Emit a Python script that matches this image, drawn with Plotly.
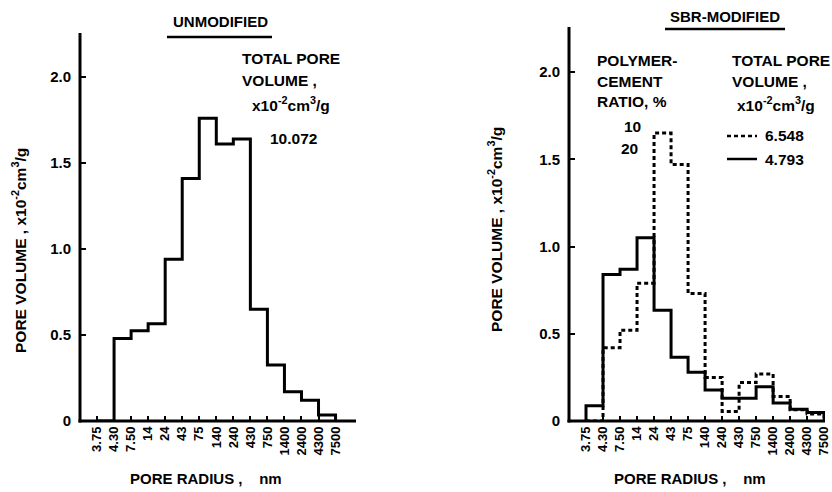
import plotly.graph_objects as go

# Pore-radius class boundaries (nm), equally spaced on the axis
radius_labels = ["3.75", "4.30", "7.50", "14", "24", "43", "75", "140", "240",
                 "430", "750", "1400", "2400", "4300", "7500"]

# Pore volume per class (x10^-2 cm^3/g), one value per interval between boundaries
unmodified = [0.0, 0.48, 0.525, 0.565, 0.94, 1.41, 1.76, 1.61, 1.64,
              0.65, 0.325, 0.17, 0.12, 0.035]
sbr_10 = [0.0, 0.42, 0.52, 0.79, 1.65, 1.47, 0.73, 0.25, 0.055,
          0.22, 0.27, 0.14, 0.065, 0.04]
sbr_20 = [0.088, 0.84, 0.87, 1.05, 0.635, 0.365, 0.28, 0.178, 0.13,
          0.13, 0.197, 0.103, 0.067, 0.048]

y_ticks = [0, 0.5, 1.0, 1.5, 2.0]
y_tick_text = ["0", "0.5", "1.0", "1.5", "2.0"]

W, H = 832, 492
FONT = "Liberation Sans, Arial, sans-serif"

# Plot-area boxes in pixels: (left, right, top, bottom)
LEFT_BOX = (80, 356, 33, 421)
RIGHT_BOX = (569, 825, 27, 421)
AXIS_W = 3.0


def step_xy(values):
    """Closed histogram outline: rises from the axis, steps across, drops at the end."""
    xs = list(range(len(values) + 1))
    x = [xs[0]] + xs[:-1] + [xs[-1], xs[-1]]
    y = [0] + list(values) + [values[-1], 0]
    return x, y


def px_x(p):
    return p / W


def px_y(p):
    return 1 - p / H


fig = go.Figure()

x, y = step_xy(unmodified)
fig.add_trace(go.Scatter(x=x, y=y, mode="lines", line=dict(shape="hv", color="black", width=3),
                         xaxis="x", yaxis="y", showlegend=False, hoverinfo="skip"))

x, y = step_xy(sbr_10)
fig.add_trace(go.Scatter(x=x, y=y, mode="lines",
                         line=dict(shape="hv", color="black", width=3, dash="4px,3px"),
                         xaxis="x2", yaxis="y2", showlegend=False, hoverinfo="skip"))

x, y = step_xy(sbr_20)
fig.add_trace(go.Scatter(x=x, y=y, mode="lines", line=dict(shape="hv", color="black", width=3),
                         xaxis="x2", yaxis="y2", showlegend=False, hoverinfo="skip"))

tick_font = dict(family=FONT, size=15, color="black", weight="bold")
xtick_font = dict(family=FONT, size=13, color="black", weight="bold")

common_x = dict(showline=False, showgrid=False, zeroline=False, automargin=False,
                tickmode="array", tickvals=list(range(len(radius_labels))), ticktext=radius_labels,
                ticks="inside", ticklen=5, tickwidth=2, tickcolor="black", tickangle=-90,
                tickfont=xtick_font, ticklabelstandoff=2)
common_y = dict(showline=False, showgrid=False, zeroline=False, automargin=False,
                tickmode="array", tickvals=y_ticks, ticktext=y_tick_text,
                ticks="inside", ticklen=6, tickwidth=2, tickcolor="black",
                tickfont=tick_font, ticklabelstandoff=8)


def dom_x(box):
    return [px_x(box[0]), px_x(box[1])]


def dom_y(box):
    return [px_y(box[3]), px_y(box[2])]


fig.update_layout(
    width=W, height=H, margin=dict(l=0, r=0, t=0, b=0, autoexpand=False),
    paper_bgcolor="white", plot_bgcolor="rgba(0,0,0,0)",
    xaxis=dict(domain=dom_x(LEFT_BOX), range=[-1, 15.2], anchor="y", **common_x),
    yaxis=dict(domain=dom_y(LEFT_BOX), range=[0, 2.256], anchor="x", **common_y),
    xaxis2=dict(domain=dom_x(RIGHT_BOX), range=[-1, 14.05], anchor="y2", **common_x),
    yaxis2=dict(domain=dom_y(RIGHT_BOX), range=[0, 2.258], anchor="x2", **common_y),
)

# Axis strokes as solid bars along the left and bottom edges of each plotting area
h = AXIS_W / 2
for l, r, t, b in [LEFT_BOX, RIGHT_BOX]:
    fig.add_shape(type="rect", xref="paper", yref="paper", layer="above",
                  x0=px_x(l - h), x1=px_x(l + h), y0=px_y(b + h), y1=px_y(t),
                  fillcolor="black", line=dict(width=0))
    fig.add_shape(type="rect", xref="paper", yref="paper", layer="above",
                  x0=px_x(l - h), x1=px_x(r), y0=px_y(b + h), y1=px_y(b - h),
                  fillcolor="black", line=dict(width=0))

ANN_SIZE = 15.5


def label(text, x, y, xanchor="left", angle=0, size=ANN_SIZE):
    fig.add_annotation(text=text, x=px_x(x), y=px_y(y), xref="paper", yref="paper",
                       xanchor=xanchor, yanchor="middle", showarrow=False, textangle=angle,
                       font=dict(family=FONT, size=size, color="black", weight="bold"))


unit = "x10<sup>-2</sup>cm<sup>3</sup>/g"

# Panel titles with underlines
label("UNMODIFIED", 220, 22, xanchor="center", size=15)
label("SBR-MODIFIED", 725, 17, xanchor="center", size=15)
for x0, x1, yy in [(167, 272, 37), (665, 785, 29)]:
    fig.add_shape(type="line", xref="paper", yref="paper",
                  x0=px_x(x0), x1=px_x(x1), y0=px_y(yy), y1=px_y(yy),
                  line=dict(color="black", width=2.5))

# Axis titles
label("PORE VOLUME , " + unit, 19, 251, xanchor="center", angle=-90, size=15.5)
label("PORE VOLUME , " + unit, 495, 230, xanchor="center", angle=-90, size=15.5)
label("PORE RADIUS ,    nm", 206, 478, xanchor="center", size=15)
label("PORE RADIUS ,    nm", 690, 478, xanchor="center", size=15)

# Left panel total pore volume note
label("TOTAL PORE", 240, 58)
label("VOLUME ,", 240, 80)
label(unit, 250, 104)
label("10.072", 268, 138)

# Right panel key
label("POLYMER-", 595, 60)
label("CEMENT", 595, 81)
label("RATIO, %", 595, 102)
label("TOTAL PORE", 730, 60)
label("VOLUME ,", 730, 81)
label(unit, 735, 104)
label("10", 643, 126, xanchor="right")
label("20", 640, 148, xanchor="right")
label("6.548", 763, 136)
label("4.793", 763, 159)
fig.add_shape(type="line", xref="paper", yref="paper",
              x0=px_x(727), x1=px_x(757), y0=px_y(136), y1=px_y(136),
              line=dict(color="black", width=2.5, dash="4px,3px"))
fig.add_shape(type="line", xref="paper", yref="paper",
              x0=px_x(727), x1=px_x(757), y0=px_y(159), y1=px_y(159),
              line=dict(color="black", width=2.5))

fig.write_html("out.html")
